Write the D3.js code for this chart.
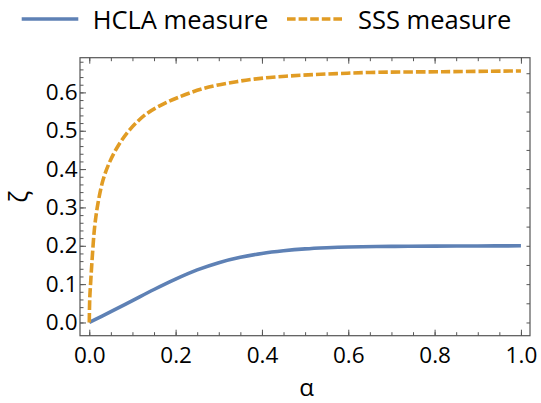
<!DOCTYPE html>
<html>
<head>
<meta charset="utf-8">
<script src="https://cdn.jsdelivr.net/npm/d3@7"></script>
<style>
body { margin: 0; background: #fff; }
svg { display: block; }
text { font-family: "Open Sans", sans-serif; fill: #000; }
</style>
</head>
<body>
<svg id="chart" width="541" height="403"></svg>
<script>
// ---- data ----
const seriesNames = ["HCLA measure", "SSS measure"];
const hclaAlpha = [0, 0.05, 0.1, 0.15, 0.2, 0.25, 0.3, 0.35, 0.4, 0.45, 0.5, 0.55, 0.6, 0.7, 0.8, 0.9, 1.0];
const hclaZeta  = [0, 0.028, 0.057, 0.086, 0.113, 0.137, 0.156, 0.170, 0.180, 0.187, 0.192, 0.195, 0.197, 0.1985, 0.199, 0.1995, 0.2];
const sssAlpha = [0, 0.001, 0.0035, 0.0075, 0.0125, 0.02, 0.032, 0.047, 0.067, 0.094, 0.13, 0.17, 0.206, 0.264, 0.341, 0.418, 0.496, 0.573, 0.65, 0.82, 1.0];
const sssZeta  = [0, 0.06, 0.11, 0.18, 0.25, 0.31, 0.372, 0.418, 0.461, 0.503, 0.542, 0.569, 0.587, 0.610, 0.628, 0.639, 0.645, 0.649, 0.652, 0.654, 0.656];
const xMajorTicks = [0, 0.2, 0.4, 0.6, 0.8, 1.0];
const xMinorTicks = d3.range(0, 1.0001, 0.05);
const yMajorTicks = [0, 0.1, 0.2, 0.3, 0.4, 0.5, 0.6];
const yMinorTicks = d3.range(0, 0.681, 0.02);
const yRightTicks = d3.range(0, 0.651, 0.05);
const xLabel = "α";
const yLabel = "ζ";

const colors = ["#5E81B5", "#E19C24"];

// ---- layout ----
const L = 80, R = 530, T = 57.7, B = 335.7;
const svg = d3.select("#chart");
const x = d3.scaleLinear().domain([-0.0215, 1.021]).range([L, R]);
const y = d3.scaleLinear().domain([-0.0345, 0.6905]).range([B, T]);
const frameColor = "#555";

function styleAxis(g) {
  g.select(".domain").remove();
  g.selectAll(".tick line").attr("stroke", frameColor).attr("stroke-width", 1);
  g.selectAll("text").style("font-family", "Open Sans").style("font-size", "22.5px").attr("fill", "#000");
}

// minor ticks (no labels)
svg.append("g").attr("transform", `translate(0,${B})`)
  .call(d3.axisBottom(x).tickValues(xMinorTicks).tickSize(-3.5).tickFormat(""))
  .call(styleAxis);
svg.append("g").attr("transform", `translate(0,${T})`)
  .call(d3.axisTop(x).tickValues(xMinorTicks).tickSize(-3.5).tickFormat(""))
  .call(styleAxis);
svg.append("g").attr("transform", `translate(${L},0)`)
  .call(d3.axisLeft(y).tickValues(yMinorTicks).tickSize(-3.5).tickFormat(""))
  .call(styleAxis);
svg.append("g").attr("transform", `translate(${R},0)`)
  .call(d3.axisRight(y).tickValues(yRightTicks).tickSize(-3.5).tickFormat(""))
  .call(styleAxis);

// major ticks
svg.append("g").attr("transform", `translate(0,${B})`)
  .call(d3.axisBottom(x).tickValues(xMajorTicks).tickSize(-6).tickPadding(11).tickFormat(d3.format(".1f")))
  .call(styleAxis);
svg.append("g").attr("transform", `translate(0,${T})`)
  .call(d3.axisTop(x).tickValues(xMajorTicks).tickSize(-6).tickFormat(""))
  .call(styleAxis);
svg.append("g").attr("transform", `translate(${L},0)`)
  .call(d3.axisLeft(y).tickValues(yMajorTicks).tickSize(-6).tickPadding(2.5).tickFormat(d3.format(".1f")))
  .call(styleAxis);

// frame
svg.append("rect").attr("x", L).attr("y", T).attr("width", R - L).attr("height", B - T)
  .attr("fill", "none").attr("stroke", frameColor).attr("stroke-width", 1.2);

// clip
svg.append("clipPath").attr("id", "clip").append("rect")
  .attr("x", L).attr("y", T).attr("width", R - L).attr("height", B - T);

const line = d3.line().x(d => x(d[0])).y(d => y(d[1])).curve(d3.curveCatmullRom.alpha(0.5));
const hcla = hclaAlpha.map((a, i) => [a, hclaZeta[i]]);
const sss = sssAlpha.map((a, i) => [a, sssZeta[i]]);

const plot = svg.append("g").attr("clip-path", "url(#clip)");
plot.append("path").datum(hcla).attr("d", line)
  .attr("fill", "none").attr("stroke", colors[0]).attr("stroke-width", 3.6);
plot.append("path").datum(sss).attr("d", line)
  .attr("fill", "none").attr("stroke", colors[1]).attr("stroke-width", 3.6)
  .attr("stroke-dasharray", "9.5,3");

// axis labels
svg.append("text").attr("x", (L + R) / 2 + 1.5).attr("y", 396)
  .attr("text-anchor", "middle").style("font-size", "24px").text(xLabel);
svg.append("text").attr("transform", `translate(28,${(T + B) / 2}) rotate(-90)`)
  .attr("text-anchor", "middle").style("font-size", "25px").text(yLabel);

// legend
const legend = [
  { x1: 21.7, x2: 78.3, tx: 92.7, dash: null },
  { x1: 287, x2: 342, tx: 358, dash: "8.6,3" }
];
legend.forEach((lg, i) => {
  const l = svg.append("line").attr("x1", lg.x1).attr("x2", lg.x2).attr("y1", 19).attr("y2", 19)
    .attr("stroke", colors[i]).attr("stroke-width", 3.6);
  if (lg.dash) l.attr("stroke-dasharray", lg.dash);
  svg.append("text").attr("x", lg.tx).attr("y", 29.3).style("font-size", "25.5px").text(seriesNames[i]);
});
</script>
</body>
</html>
